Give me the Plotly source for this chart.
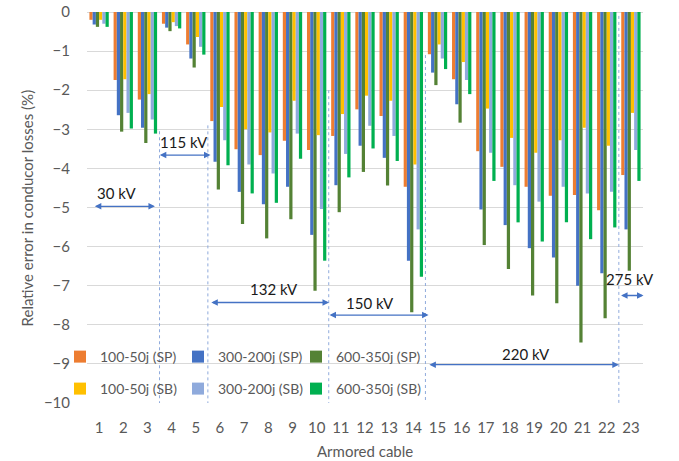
import plotly.graph_objects as go

cables = list(range(1, 24))
tick_labels = [str(c) for c in cables]

sp_100_50 = [-0.20, -1.74, -2.24, -0.30, -0.83, -2.79, -3.51, -3.66, -3.29, -3.53, -3.17, -2.49,
             -2.66, -4.47, -1.08, -1.72, -3.56, -3.96, -4.47, -4.70, -4.68, -5.07, -4.17]
sp_300_200 = [-0.32, -2.64, -2.96, -0.40, -1.19, -3.83, -4.60, -4.92, -4.47, -5.70, -4.43, -3.42,
              -3.73, -6.36, -1.55, -2.36, -5.05, -5.45, -6.04, -6.28, -7.00, -6.68, -5.56]
sp_600_350 = [-0.38, -3.06, -3.35, -0.49, -1.42, -4.54, -5.42, -5.79, -5.30, -7.13, -5.12, -4.09,
              -4.44, -7.68, -1.87, -2.83, -5.96, -6.57, -7.25, -7.45, -8.45, -7.83, -6.62]
sb_100_50 = [-0.20, -1.72, -2.10, -0.26, -0.64, -2.43, -3.00, -3.08, -2.27, -3.15, -2.61, -2.14,
             -2.27, -3.90, -0.83, -1.28, -2.47, -3.22, -3.60, -3.28, -2.96, -3.42, -2.58]
sb_300_200 = [-0.30, -2.58, -2.75, -0.36, -0.89, -3.28, -3.90, -4.13, -3.11, -5.04, -3.63, -2.91,
              -3.17, -5.56, -1.19, -1.74, -3.60, -4.43, -4.85, -4.47, -4.64, -4.60, -3.53]
sb_600_350 = [-0.38, -2.98, -3.11, -0.42, -1.09, -3.92, -4.64, -4.88, -3.75, -6.36, -4.23, -3.49,
              -3.81, -6.77, -1.46, -2.10, -4.32, -5.38, -5.87, -5.38, -5.81, -5.51, -4.32]

series_names = ["100-50j (SP)", "300-200j (SP)", "600-350j (SP)",
                "100-50j (SB)", "300-200j (SB)", "600-350j (SB)"]
series_values = [sp_100_50, sp_300_200, sp_600_350, sb_100_50, sb_300_200, sb_600_350]
series_colors = ["#ED7D31", "#4472C4", "#548235", "#FFC000", "#8FAADC", "#00B050"]
series_legend = ["legend", "legend", "legend", "legend2", "legend2", "legend2"]
entry_widths = [73, 73, 100, 73, 73, 100]

voltage_labels = ["30 kV", "115 kV", "132 kV", "150 kV", "220 kV", "275 kV"]
x_title = "Armored cable"
y_title = "Relative error in conducor losses (%)"

FONT = "Lato"
GREY = "#595959"

fig = go.Figure()
for name, vals, col, lg, ew in zip(series_names, series_values, series_colors, series_legend,
                                   entry_widths):
    fig.add_trace(go.Bar(x=cables, y=vals, name=name, marker=dict(color=col, line=dict(width=0)),
                         legend=lg, legendwidth=ew))

# annotation layout (positions in data coords)
arrow_spans = [(0.76, 3.31), (3.45, 5.61), (5.58, 10.51), (10.47, 14.63), (14.6, 22.5), (22.53, 23.52)]
arrow_y = [-4.97, -3.66, -7.43, -7.75, -9.02, -7.25]
label_xy = [(1.73, -4.63), (4.51, -3.32), (8.23, -7.09), (12.19, -7.45), (18.64, -8.75), (22.98, -6.83)]
divider_x = [3.5, 5.5, 10.5, 14.5, 22.5]
divider_top = [-3.05, -2.9, -2.0, -1.1, -0.1]

shapes = []
for dx, top in zip(divider_x, divider_top):
    shapes.append(dict(type="line", xref="x", yref="y", x0=dx, x1=dx, y0=top, y1=-10,
                       line=dict(color="#8FAADC", width=1, dash="dot")))

annotations = []
for (x0, x1), ay, lab, (lx, ly) in zip(arrow_spans, arrow_y, voltage_labels, label_xy):
    annotations.append(dict(x=x1, y=ay, ax=x0, ay=ay, xref="x", yref="y", axref="x", ayref="y",
                            text="", showarrow=True, arrowhead=2, arrowside="end+start",
                            arrowsize=1, arrowwidth=1.3, arrowcolor="#4472C4"))
    annotations.append(dict(x=lx, y=ly, xref="x", yref="y", text=lab, showarrow=False,
                            xanchor="center", yanchor="middle",
                            font=dict(family=FONT, size=15, color="#1a1a1a")))

annotations.append(dict(x=-0.108, y=0.5, xref="paper", yref="paper", text=y_title,
                        textangle=-90, showarrow=False, xanchor="center", yanchor="middle",
                        font=dict(family=FONT, size=15, color=GREY)))
annotations.append(dict(x=0.5, y=-0.1227, xref="paper", yref="paper", text=x_title,
                        showarrow=False, xanchor="center", yanchor="middle",
                        font=dict(family=FONT, size=15, color=GREY)))

legend_common = dict(orientation="h", xref="container", x=60 / 679, xanchor="left",
                     bgcolor="rgba(255,255,255,0)", traceorder="normal",
                     font=dict(family=FONT, size=14, color=GREY))

fig.update_layout(
    width=679, height=461,
    margin=dict(l=87, r=36, t=12, b=58, autoexpand=False),
    paper_bgcolor="white", plot_bgcolor="white",
    barmode="group", bargap=0.2, bargroupgap=0,
    font=dict(family=FONT, size=14, color=GREY),
    shapes=shapes, annotations=annotations,
    xaxis=dict(range=[0.5, 23.5], tickmode="array", tickvals=cables, ticktext=tick_labels,
               showgrid=False, zeroline=False, showline=False, ticks="", automargin=False,
               ticklabelstandoff=14, tickfont=dict(family=FONT, size=15, color=GREY)),
    yaxis=dict(range=[-10, 0], dtick=1, tick0=0, showgrid=True, gridcolor="#D9D9D9",
               gridwidth=1, zeroline=True, zerolinecolor="#D9D9D9", zerolinewidth=1,
               showline=False, ticks="", ticklabelstandoff=16, automargin=False,
               tickfont=dict(family=FONT, size=15, color=GREY)),
    legend=dict(y=0.1176, yanchor="middle", **legend_common),
    legend2=dict(y=0.0358, yanchor="middle", **legend_common),
)

fig.write_html("out.html", config={"displayModeBar": False},
               post_script="document.body.style.margin='0';")
